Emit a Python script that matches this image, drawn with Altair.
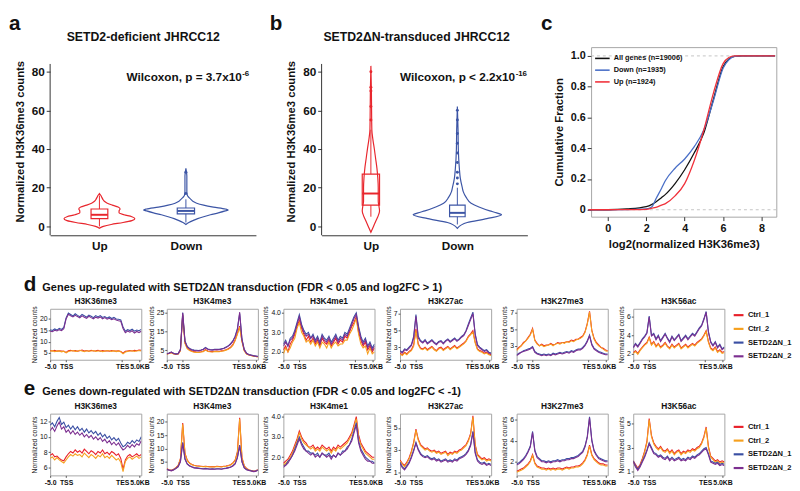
import altair as alt
import pandas as pd

FONT = "Liberation Sans"
RED = "#e8262d"
BLUE = "#3c55a5"

# ---------------- panel a / b : violins (value, half-width in category units) ----------------
a_up_y = [-1, 0, 1, 2, 3, 4, 5, 6, 7, 8, 9, 10, 11, 12, 13, 14, 15, 16, 17]
a_up_w = [0, 0.045, 0.136, 0.273, 0.375, 0.41, 0.375, 0.284, 0.227, 0.227, 0.239, 0.216, 0.148, 0.091, 0.057, 0.04, 0.028, 0.017, 0]
a_dn_y = [1, 2, 3, 4, 5, 6, 7, 8, 8.5, 9, 10, 11, 12, 13, 14, 15, 16, 18, 22, 26, 30]
a_dn_w = [0, 0.034, 0.08, 0.136, 0.205, 0.284, 0.375, 0.455, 0.489, 0.455, 0.318, 0.205, 0.125, 0.08, 0.057, 0.034, 0.017, 0.011, 0.011, 0.011, 0]
a_box_up = [4, 6, 9, 0, 16]      # q1, median, q3, low whisker, high whisker
a_box_dn = [6.5, 8, 9.5, 2, 14]
a_out_dn = [17, 28]

b_up_y = [-3, 0, 3, 5, 8, 10, 13, 16, 20, 25, 30, 35, 40, 45, 50, 60, 70, 83]
b_up_w = [0, 0.03, 0.06, 0.08, 0.1, 0.095, 0.085, 0.085, 0.085, 0.08, 0.07, 0.055, 0.04, 0.023, 0.011, 0.008, 0.006, 0]
b_dn_y = [-1, 2, 4, 6, 7, 8, 10, 12, 15, 18, 20, 25, 30, 40, 50, 62]
b_dn_w = [0, 0.114, 0.341, 0.511, 0.455, 0.375, 0.25, 0.159, 0.102, 0.068, 0.057, 0.034, 0.023, 0.011, 0.008, 0]
b_box_up = [11, 17, 27, 5, 50]
b_box_dn = [5, 7, 11, 1, 20]
b_out_up = [55, 62, 70, 72, 80]
b_out_dn = [22, 25, 28, 33, 38, 43, 48, 55, 60]
violin_axis_span = [-4.6, 84]

# ---------------- panel c : cumulative fractions ----------------
cdf_x = [-1, 0, 1, 2, 2.3, 2.5, 2.8, 3, 3.5, 4, 4.5, 5, 5.5, 6, 6.3, 6.6, 7, 8.7]
cdf_all = [0, 0, 0.005, 0.02, 0.035, 0.05, 0.08, 0.1, 0.17, 0.26, 0.37, 0.5, 0.72, 0.93, 0.98, 0.997, 1, 1]
cdf_down = [0, 0, 0.001, 0.005, 0.02, 0.07, 0.14, 0.19, 0.27, 0.33, 0.41, 0.52, 0.71, 0.92, 0.975, 0.997, 1, 1]
cdf_up = [0, 0, 0.001, 0.003, 0.01, 0.015, 0.03, 0.04, 0.09, 0.17, 0.32, 0.52, 0.76, 0.95, 0.99, 1, 1, 1]
cdf_groups = ["All genes (n=19006)", "Down (n=1935)", "Up (n=1924)"]
cdf_refs = [0, 1]

# ---------------- rows d / e : metagene profiles ----------------
SAMPLES = ["Ctrl_1", "Ctrl_2", "SETD2ΔN_1", "SETD2ΔN_2"]
SCOLORS = ["#e8202a", "#f6a01e", "#3a4fa3", "#7c2f90"]
bins = [i * 2.5 for i in range(41)]

d1_c1 = [6.1,5.9,6.2,5.8,6.0,5.9,5.7,5.2,6.0,6.2,5.9,6.1,5.8,6.0,6.3,5.9,6.1,5.8,6.2,5.9,6.0,6.2,5.8,6.1,5.9,6.0,5.8,6.1,5.9,5.8,6.0,5.6,4.9,5.7,5.9,6.1,5.9,6.2,6.0,6.3,6.2]
d1_c2 = [5.7,6.0,5.6,5.8,5.9,5.5,5.8,5.0,5.6,5.9,6.1,5.7,5.8,6.2,5.9,5.6,6.0,5.8,5.9,6.1,5.7,5.9,6.0,5.6,5.8,6.1,5.9,5.7,6.0,5.6,5.9,5.5,4.6,5.4,5.7,5.9,6.0,5.7,5.9,6.1,5.9]
d1_s1 = [15.2,14.9,15.6,15.1,15.9,15.4,16.3,20.5,22.6,22.0,21.3,22.3,21.6,21.0,22.0,21.4,20.8,21.7,21.2,20.6,21.5,20.9,21.5,20.7,21.1,20.4,20.9,20.2,20.7,20.0,19.9,19.6,16.5,14.6,15.3,14.9,15.5,14.6,15.1,14.8,15.4]
d1_s2 = [14.6,14.4,15.0,14.7,15.3,14.9,15.7,20.0,22.1,21.4,20.9,21.6,21.1,20.5,21.4,20.8,20.3,21.2,20.6,20.1,20.8,20.4,20.9,20.1,20.6,19.9,20.3,19.7,20.1,19.5,19.2,19.0,15.8,13.9,14.7,14.2,14.8,13.8,14.5,14.0,14.6]

d2_c1 = [3.0,3.4,3.9,3.2,2.9,3.1,5.0,24.0,9.0,6.2,5.2,4.6,4.3,4.1,4.0,4.2,4.5,5.3,4.6,4.4,4.3,4.5,4.6,4.4,4.7,4.9,5.3,5.8,6.6,8.0,10.5,14.0,17.8,10.0,5.0,3.2,2.6,2.3,2.0,1.8,1.6]
d2_c2 = [2.8,3.3,3.7,3.0,2.8,3.0,4.7,23.5,8.6,5.9,4.9,4.4,4.0,3.9,3.8,4.1,4.3,5.1,4.4,4.2,4.1,4.3,4.4,4.2,4.5,4.7,5.1,5.5,6.3,7.6,10.0,13.5,17.2,9.6,4.8,3.0,2.5,2.2,1.9,1.7,1.5]
d2_s1 = [3.2,3.6,4.1,3.4,3.1,3.3,5.5,25.0,10.0,7.0,6.0,5.4,5.1,5.0,4.9,5.2,5.6,6.5,5.7,5.4,5.3,5.5,5.6,5.5,5.8,6.1,6.7,7.4,8.5,10.0,12.5,16.5,24.5,11.0,5.5,3.5,2.8,2.5,2.2,2.0,1.8]
d2_s2 = [3.1,3.5,4.0,3.3,3.0,3.2,5.3,24.8,9.7,6.8,5.8,5.2,4.9,4.8,4.7,5.0,5.4,6.3,5.5,5.2,5.1,5.3,5.4,5.3,5.6,5.9,6.5,7.2,8.2,9.7,12.1,16.0,25.2,10.8,5.3,3.4,2.7,2.4,2.1,1.9,1.7]

d3_c1 = [2.1,2.3,2.0,2.4,2.6,2.9,3.3,3.6,3.2,2.9,2.6,2.8,2.5,2.7,2.4,2.6,2.3,2.7,2.5,2.4,2.6,2.3,2.5,2.7,2.4,2.6,2.5,2.8,2.7,3.0,3.3,3.5,3.8,3.0,2.6,2.3,2.5,2.1,2.3,2.0,2.2]
d3_c2 = [1.9,2.2,2.0,2.2,2.5,2.7,3.2,3.5,3.0,2.8,2.5,2.6,2.4,2.6,2.3,2.5,2.2,2.5,2.4,2.2,2.5,2.2,2.4,2.5,2.3,2.4,2.4,2.6,2.6,2.9,3.1,3.4,3.7,2.9,2.4,2.2,2.3,1.9,2.2,1.9,2.0]
d3_s1 = [2.4,2.6,2.3,2.7,2.8,3.1,3.5,3.9,3.4,3.1,2.9,3.0,2.7,2.9,2.6,2.8,2.5,2.9,2.7,2.6,2.8,2.5,2.7,2.9,2.6,2.8,2.7,3.0,2.9,3.2,3.5,3.8,4.0,3.3,2.8,2.5,2.7,2.3,2.5,2.2,2.4]
d3_s2 = [2.3,2.5,2.3,2.6,2.7,3.0,3.4,3.8,3.3,3.0,2.8,2.9,2.7,2.8,2.5,2.7,2.4,2.8,2.6,2.5,2.7,2.4,2.6,2.8,2.5,2.7,2.6,2.9,2.8,3.1,3.4,3.7,3.9,3.2,2.7,2.4,2.6,2.2,2.4,2.1,2.3]

d4_c1 = [2.3,2.1,2.4,2.2,2.5,2.7,3.3,5.2,3.4,2.9,2.8,3.0,2.7,2.9,3.1,2.8,2.6,2.9,3.0,2.7,2.9,3.1,2.8,3.0,3.2,2.9,3.1,3.3,3.5,3.8,4.3,4.6,5.0,3.6,2.8,2.6,2.5,2.3,2.4,2.2,2.1]
d4_c2 = [2.2,2.0,2.3,2.1,2.4,2.6,3.1,5.0,3.3,2.8,2.7,2.9,2.6,2.8,3.0,2.7,2.5,2.8,2.9,2.6,2.8,3.0,2.7,2.9,3.1,2.8,3.0,3.2,3.4,3.7,4.2,4.5,4.8,3.5,2.7,2.5,2.4,2.2,2.3,2.1,2.0]
d4_s1 = [2.6,2.4,2.8,2.7,3.0,3.3,4.3,6.9,4.3,3.8,3.6,3.9,3.5,3.7,3.9,3.6,3.4,3.7,3.8,3.5,3.8,4.0,3.7,3.9,4.1,3.8,4.0,4.3,4.5,5.0,5.8,6.5,7.2,4.6,3.3,3.0,2.8,2.6,2.7,2.4,2.3]
d4_s2 = [2.5,2.3,2.7,2.6,2.9,3.2,4.1,6.7,4.1,3.7,3.5,3.8,3.4,3.6,3.8,3.5,3.3,3.6,3.7,3.4,3.7,3.9,3.6,3.8,4.0,3.7,3.9,4.2,4.4,4.9,5.6,6.3,7.0,4.5,3.2,2.9,2.7,2.5,2.6,2.3,2.2]

d5_c1 = [2.5,2.8,3.0,3.4,3.6,4.0,4.4,5.1,3.7,3.3,3.0,3.2,3.0,3.1,3.1,3.3,3.1,3.2,3.4,3.3,3.4,3.4,3.5,3.5,3.7,3.6,3.8,3.8,4.0,4.2,4.7,5.7,7.2,4.9,3.9,3.4,3.1,2.8,2.7,2.5,2.4]
d5_c2 = [2.4,2.7,3.0,3.3,3.6,3.9,4.3,5.0,3.6,3.2,3.0,3.1,2.9,3.0,3.1,3.2,3.0,3.2,3.3,3.2,3.4,3.3,3.5,3.4,3.6,3.5,3.7,3.8,3.9,4.1,4.6,5.6,7.1,4.8,3.8,3.3,3.0,2.8,2.6,2.4,2.3]
d5_s1 = [1.9,2.1,2.2,2.4,2.5,2.6,2.7,2.9,2.3,2.1,2.0,1.9,2.0,1.9,2.0,1.9,2.1,2.0,2.1,2.2,2.1,2.2,2.3,2.2,2.4,2.3,2.5,2.6,2.6,2.8,3.1,3.6,4.3,3.2,2.7,2.5,2.3,2.2,2.1,2.0,2.0]
d5_s2 = [1.8,2.0,2.2,2.3,2.4,2.5,2.6,2.8,2.2,2.0,1.9,1.8,1.9,1.8,1.9,1.8,2.0,1.9,2.0,2.1,2.0,2.1,2.2,2.1,2.3,2.2,2.4,2.5,2.5,2.7,3.0,3.5,4.2,3.1,2.6,2.4,2.2,2.1,2.0,1.9,1.9]

d6_c1 = [2.1,2.3,2.0,2.4,2.7,3.0,3.2,3.8,3.0,3.3,2.8,3.1,2.7,2.9,3.2,2.8,2.6,3.0,2.7,2.9,3.1,2.6,2.8,3.0,2.7,2.9,3.1,2.9,3.2,3.4,3.6,4.0,4.5,3.3,2.6,2.4,2.7,2.2,2.4,2.1,2.2]
d6_c2 = [2.0,2.2,1.9,2.3,2.6,2.9,3.1,3.7,2.9,3.2,2.7,3.0,2.6,2.8,3.1,2.7,2.5,2.9,2.6,2.8,3.0,2.5,2.7,2.9,2.6,2.8,3.0,2.8,3.1,3.3,3.5,3.9,4.4,3.2,2.5,2.3,2.6,2.1,2.3,2.0,2.1]
d6_s1 = [2.7,3.1,2.8,3.2,3.6,3.9,4.3,6.1,4.0,4.2,3.6,4.0,3.4,3.8,4.2,3.7,3.3,3.9,3.5,3.8,4.1,3.4,3.7,4.0,3.6,3.9,4.2,4.0,4.4,4.8,5.1,5.8,6.6,4.4,3.3,2.9,3.3,2.7,3.0,2.5,2.7]
d6_s2 = [2.6,3.0,2.7,3.1,3.5,3.8,4.2,6.0,3.9,4.1,3.5,3.9,3.3,3.7,4.1,3.6,3.2,3.8,3.4,3.7,4.0,3.3,3.6,3.9,3.5,3.8,4.1,3.9,4.3,4.7,5.0,5.7,6.5,4.3,3.2,2.8,3.2,2.6,2.9,2.4,2.6]

e1_c1 = [7.6,7.8,7.4,7.5,7.2,7.0,6.9,7.4,7.8,8.1,7.9,8.3,8.0,8.2,7.9,8.4,8.1,7.8,8.2,8.0,7.7,8.1,7.9,8.3,7.8,8.0,7.7,8.1,7.9,7.6,7.8,7.2,5.8,7.0,7.5,7.7,7.4,7.6,7.8,7.5,7.7]
e1_c2 = [7.2,7.4,7.0,7.3,7.0,6.8,6.6,7.0,7.4,7.7,7.5,7.8,7.6,7.7,7.4,7.9,7.6,7.3,7.7,7.5,7.2,7.6,7.4,7.8,7.3,7.5,7.2,7.6,7.3,7.0,7.2,6.7,5.5,6.8,7.2,7.4,7.1,7.3,7.5,7.2,7.4]
e1_s1 = [11.5,11.8,11.3,12.0,12.5,11.6,11.9,11.2,11.5,11.0,11.4,10.9,11.3,10.8,11.1,10.6,11.0,10.5,10.8,10.4,10.7,10.2,10.5,10.0,10.3,9.8,10.1,9.6,9.9,9.5,9.8,9.2,8.7,8.9,9.3,9.1,9.5,9.2,9.6,9.4,10.0]
e1_s2 = [10.8,11.2,10.7,11.4,11.9,11.0,11.3,10.6,10.9,10.4,10.8,10.3,10.6,10.2,10.5,10.0,10.3,9.9,10.2,9.7,10.0,9.6,9.9,9.4,9.7,9.2,9.5,9.0,9.3,8.9,9.2,8.7,8.3,8.5,8.9,8.6,9.0,8.7,9.1,8.9,9.5]

e2_c1 = [2.5,2.1,1.9,2.3,2.9,3.7,6.2,19.5,8.3,5.7,4.6,4.1,3.8,3.6,3.5,3.4,3.3,3.4,3.3,3.2,3.3,3.2,3.4,3.3,3.2,3.4,3.5,3.7,4.0,4.6,5.7,8.8,21.5,6.7,3.6,2.6,2.1,1.8,1.6,1.7,2.1]
e2_c2 = [2.4,2.0,1.8,2.2,2.8,3.6,6.0,19.0,8.0,5.5,4.5,4.0,3.7,3.5,3.4,3.3,3.2,3.3,3.2,3.1,3.2,3.1,3.3,3.2,3.1,3.3,3.4,3.6,3.9,4.5,5.5,8.5,21.0,6.5,3.5,2.5,2.0,1.7,1.5,1.6,2.0]
e2_s1 = [2.3,2.0,1.8,2.1,2.6,3.3,5.2,12.3,6.2,4.3,3.6,3.2,2.9,2.8,2.7,2.6,2.5,2.6,2.5,2.4,2.5,2.4,2.5,2.5,2.4,2.6,2.7,2.9,3.1,3.6,4.4,6.7,11.3,5.1,2.9,2.2,1.9,1.7,1.5,1.6,2.0]
e2_s2 = [2.2,1.9,1.7,2.0,2.5,3.2,5.0,12.0,6.0,4.2,3.5,3.1,2.8,2.7,2.6,2.5,2.4,2.5,2.4,2.3,2.4,2.3,2.4,2.4,2.3,2.5,2.6,2.8,3.0,3.5,4.3,6.5,11.0,5.0,2.8,2.1,1.8,1.6,1.4,1.5,1.9]

e3_c1 = [1.7,1.8,1.9,2.1,2.3,2.6,2.9,3.3,3.0,2.8,2.7,2.5,2.5,2.6,2.4,2.5,2.4,2.6,2.5,2.4,2.5,2.3,2.5,2.4,2.6,2.5,2.6,2.7,2.8,3.0,3.2,3.6,4.0,3.1,2.7,2.5,2.3,2.2,2.1,2.0,2.0]
e3_c2 = [1.6,1.7,1.8,2.0,2.2,2.5,2.8,3.2,2.9,2.7,2.6,2.5,2.4,2.5,2.3,2.4,2.3,2.5,2.4,2.3,2.4,2.2,2.4,2.3,2.5,2.4,2.5,2.6,2.7,2.9,3.1,3.5,3.9,3.0,2.6,2.4,2.2,2.1,2.0,1.9,1.9]
e3_s1 = [1.6,1.6,1.8,1.9,2.1,2.4,2.7,3.0,2.7,2.5,2.3,2.3,2.2,2.2,2.1,2.2,2.0,2.2,2.1,2.1,2.2,2.0,2.1,2.0,2.2,2.1,2.3,2.3,2.5,2.6,2.9,3.3,3.7,2.8,2.4,2.2,2.0,1.9,1.8,1.8,1.7]
e3_s2 = [1.5,1.6,1.7,1.9,2.1,2.3,2.6,2.9,2.6,2.4,2.3,2.2,2.1,2.2,2.0,2.1,2.0,2.2,2.1,2.0,2.1,1.9,2.1,2.0,2.2,2.1,2.2,2.3,2.4,2.6,2.8,3.2,3.6,2.7,2.3,2.1,1.9,1.8,1.8,1.7,1.7]

e4_c1 = [2.1,1.8,1.6,1.9,2.3,2.9,3.7,4.9,4.0,3.5,3.3,3.1,3.2,3.0,2.9,3.0,2.8,2.9,2.7,2.8,2.9,2.6,2.8,2.7,2.9,2.8,3.0,3.1,3.3,3.5,3.9,4.5,6.1,3.5,2.6,2.4,2.2,2.3,2.1,2.2,2.1]
e4_c2 = [2.0,1.7,1.5,1.8,2.2,2.8,3.6,4.8,3.9,3.4,3.2,3.0,3.1,2.9,2.8,2.9,2.7,2.8,2.6,2.7,2.8,2.5,2.7,2.6,2.8,2.7,2.9,3.0,3.2,3.4,3.8,4.4,6.0,3.4,2.5,2.3,2.1,2.2,2.0,2.1,2.0]
e4_s1 = [1.9,1.5,1.3,1.6,1.9,2.4,3.0,3.7,3.1,2.7,2.5,2.4,2.5,2.3,2.2,2.3,2.1,2.2,2.0,2.1,2.2,2.0,2.1,2.0,2.2,2.1,2.3,2.4,2.5,2.7,3.0,3.5,4.7,2.8,2.1,1.9,1.8,1.9,1.7,1.8,1.7]
e4_s2 = [1.8,1.4,1.2,1.5,1.8,2.3,2.9,3.6,3.0,2.6,2.4,2.3,2.4,2.2,2.1,2.2,2.0,2.1,1.9,2.0,2.1,1.9,2.0,1.9,2.1,2.0,2.2,2.3,2.4,2.6,2.9,3.4,4.6,2.7,2.0,1.8,1.7,1.8,1.6,1.7,1.6]

e5_c1 = [1.1,1.2,1.3,1.4,1.6,1.8,2.1,2.7,1.9,1.6,1.5,1.4,1.4,1.3,1.4,1.3,1.4,1.3,1.4,1.4,1.3,1.4,1.5,1.4,1.5,1.5,1.6,1.6,1.7,1.9,2.2,2.7,3.6,2.7,2.3,2.1,1.9,1.8,1.8,1.7,1.7]
e5_c2 = [1.0,1.1,1.2,1.3,1.5,1.7,2.0,2.6,1.8,1.5,1.4,1.3,1.3,1.2,1.3,1.2,1.3,1.2,1.3,1.3,1.2,1.3,1.4,1.3,1.4,1.4,1.5,1.5,1.6,1.8,2.1,2.6,3.5,2.6,2.2,2.0,1.8,1.7,1.7,1.6,1.6]
e5_s1 = [1.8,1.9,2.1,2.3,2.6,3.0,3.5,4.9,3.1,2.5,2.3,2.1,2.1,2.0,2.1,2.0,2.1,2.1,2.2,2.1,2.2,2.2,2.3,2.3,2.4,2.4,2.5,2.6,2.8,3.0,3.5,4.4,6.3,4.1,3.1,2.7,2.4,2.3,2.2,2.1,2.1]
e5_s2 = [1.7,1.8,2.0,2.2,2.5,2.9,3.4,4.8,3.0,2.4,2.2,2.0,2.0,1.9,2.0,1.9,2.0,2.0,2.1,2.0,2.1,2.1,2.2,2.2,2.3,2.3,2.4,2.5,2.7,2.9,3.4,4.3,6.2,4.0,3.0,2.6,2.3,2.2,2.1,2.0,2.0]

e6_c1 = [1.9,1.6,1.3,1.6,2.1,2.7,3.5,5.4,4.0,3.4,3.1,2.9,3.1,2.8,2.7,2.9,2.6,2.8,2.5,2.7,2.8,2.5,2.7,2.6,2.8,2.7,2.9,2.8,3.0,3.1,3.4,3.9,4.7,3.1,2.3,2.1,1.9,2.0,1.8,1.9,1.8]
e6_c2 = [1.8,1.5,1.2,1.5,2.0,2.6,3.4,5.3,3.9,3.3,3.0,2.8,3.0,2.7,2.6,2.8,2.5,2.7,2.4,2.6,2.7,2.4,2.6,2.5,2.7,2.6,2.8,2.7,2.9,3.0,3.3,3.8,4.6,3.0,2.2,2.0,1.8,1.9,1.7,1.8,1.7]
e6_s1 = [1.9,1.5,1.2,1.5,1.9,2.3,2.8,3.4,3.0,2.6,2.5,2.3,2.4,2.2,2.1,2.3,2.0,2.2,2.0,2.1,2.2,2.0,2.1,2.0,2.2,2.1,2.3,2.2,2.4,2.5,2.7,2.9,3.0,2.5,1.9,1.8,1.7,1.8,1.6,1.7,1.6]
e6_s2 = [1.8,1.4,1.1,1.4,1.8,2.2,2.7,3.3,2.9,2.5,2.4,2.2,2.3,2.1,2.0,2.2,1.9,2.1,1.9,2.0,2.1,1.9,2.0,1.9,2.1,2.0,2.2,2.1,2.3,2.4,2.6,2.8,2.9,2.4,1.8,1.7,1.6,1.7,1.5,1.6,1.5]

marks_d = ["H3K36me3", "H3K4me3", "H3K4me1", "H3K27ac", "H3K27me3", "H3K56ac"]
d_series = [[d1_c1, d1_c2, d1_s1, d1_s2], [d2_c1, d2_c2, d2_s1, d2_s2], [d3_c1, d3_c2, d3_s1, d3_s2],
            [d4_c1, d4_c2, d4_s1, d4_s2], [d5_c1, d5_c2, d5_s1, d5_s2], [d6_c1, d6_c2, d6_s1, d6_s2]]
e_series = [[e1_c1, e1_c2, e1_s1, e1_s2], [e2_c1, e2_c2, e2_s1, e2_s2], [e3_c1, e3_c2, e3_s1, e3_s2],
            [e4_c1, e4_c2, e4_s1, e4_s2], [e5_c1, e5_c2, e5_s1, e5_s2], [e6_c1, e6_c2, e6_s1, e6_s2]]
d_domains = [[2, 24.5], [0, 27], [1.6, 4.2], [1.5, 7.6], [1.3, 7.5], [1.3, 6.9]]
d_ticks = [[5, 10, 15, 20], [5, 15, 25], [2, 3, 4], [3, 5, 7], [3, 5, 7], [2, 4, 6]]
d_fmts = ["d", "d", ".1f", "d", "d", "d"]
e_domains = [[5, 13], [0, 23], [1.1, 4.15], [0.7, 6.3], [0.7, 6.6], [0.7, 5.8]]
e_ticks = [[6, 8, 10, 12], [5, 10, 15, 20], [2, 3, 4], [1, 3, 5], [2, 4, 6], [1, 3, 5]]
e_fmts = ["d", "d", ".1f", "d", "d", "d"]
profile_ticks = [0, 17.5, 79, 98]
title_d = "Genes up-regulated with SETD2ΔN transduction (FDR < 0.05 and log2FC > 1)"
title_e = "Genes down-regulated with SETD2ΔN transduction (FDR < 0.05 and log2FC < -1)"

NOSTROKE = alt.ViewBackground(stroke="transparent")
PW = 93


def txt(s, x, y, size, align="left", baseline="alphabetic"):
    return alt.Chart(pd.DataFrame({"t": [s]})).mark_text(
        fontSize=size, fontWeight="bold", align=align, baseline=baseline, color="#111"
    ).encode(text="t:N", x=alt.value(x), y=alt.value(y))


# ---------------- violin panels ----------------
XS = alt.Scale(domain=[0.43, 2.81], nice=False, zero=False)
YS = alt.Scale(domain=[-4.6, 92.7], nice=False, zero=False)
XAX = alt.Axis(values=[1, 2], labelExpr="datum.value == 1 ? 'Up' : 'Down'", title=None, ticks=False,
               labelFontSize=12, labelFontWeight="bold", labelPadding=5, domainColor="#333",
               grid=False, labelColor="#111")
YAX = alt.Axis(values=[0, 20, 40, 60, 80], title="Normalized H3K36me3 counts", titleFontSize=11.5,
               titleFontWeight="bold", labelFontSize=12, labelFontWeight="bold", tickSize=4,
               domain=False, tickColor="#333", grid=False, titlePadding=6, labelColor="#111",
               titleColor="#111")


def violin(y, w, center, color):
    df = pd.DataFrame({"y": y, "w": w})
    df["lo"] = center - df["w"]
    df["hi"] = center + df["w"]
    return alt.Chart(df).mark_area(orient="horizontal", interpolate="monotone", fillOpacity=0,
                                   stroke=color, strokeWidth=1.2).encode(
        y=alt.Y("y:Q", scale=YS, axis=YAX), x=alt.X("lo:Q", scale=XS, axis=XAX), x2="hi:Q")


def yaxis_line():
    df = pd.DataFrame({"x": [XS.domain[0]], "y": [violin_axis_span[0]], "y2": [violin_axis_span[1]]})
    return alt.Chart(df).mark_rule(color="#333", strokeWidth=1).encode(x="x:Q", y="y:Q", y2="y2:Q")


def boxplot(stats, center, color, hw, outliers):
    q1, med, q3, lo, hi = stats
    df = pd.DataFrame({"c": [center], "l": [center - hw], "r": [center + hw], "q1": [q1],
                       "m": [med], "q3": [q3], "lo": [lo], "hi": [hi]})
    base = alt.Chart(df)
    layers = [
        base.mark_rule(color=color, strokeWidth=1).encode(x=alt.X("c:Q", scale=XS, axis=XAX),
                                                           y=alt.Y("lo:Q", scale=YS, axis=YAX), y2="q1:Q"),
        base.mark_rule(color=color, strokeWidth=1).encode(x="c:Q", y="q3:Q", y2="hi:Q"),
        base.mark_rect(fill="white", fillOpacity=0, stroke=color, strokeWidth=1.2).encode(
            x="l:Q", x2="r:Q", y="q1:Q", y2="q3:Q"),
        base.mark_rule(color=color, strokeWidth=2).encode(x="l:Q", x2="r:Q", y="m:Q"),
    ]
    if outliers:
        od = pd.DataFrame({"v": outliers})
        od["c"] = center
        layers.append(alt.Chart(od).mark_circle(size=9, color=color, opacity=1).encode(x="c:Q", y="v:Q"))
    return layers


panel_a = alt.layer(
    violin(a_up_y, a_up_w, 1, RED), violin(a_dn_y, a_dn_w, 2, BLUE), yaxis_line(),
    *boxplot(a_box_up, 1, RED, 0.097, []), *boxplot(a_box_dn, 2, BLUE, 0.1, a_out_dn),
    txt("Wilcoxon, p = 3.7x10", 78, 35, 12), txt("-6", 196, 29, 8),
    txt("SETD2-deficient JHRCC12", 95, -6, 12.5, align="center"),
    txt("a", -42, -17, 21),
).properties(width=210, height=192, view=NOSTROKE)

panel_b = alt.layer(
    violin(b_up_y, b_up_w, 1, RED), violin(b_dn_y, b_dn_w, 2, BLUE), yaxis_line(),
    *boxplot(b_box_up, 1, RED, 0.1, b_out_up), *boxplot(b_box_dn, 2, BLUE, 0.09, b_out_dn),
    txt("Wilcoxon, p < 2.2x10", 80, 35, 12), txt("-16", 198, 29, 8),
    txt("SETD2ΔN-transduced JHRCC12", 97, -6, 12.5, align="center"),
    txt("b", -53, -17, 21),
).properties(width=210, height=192, view=NOSTROKE)

# ---------------- CDF panel ----------------
cdf_rows = []
for g, ys in zip(cdf_groups, [cdf_all, cdf_down, cdf_up]):
    for xv, yv in zip(cdf_x, ys):
        cdf_rows.append({"x": xv, "y": yv, "g": g})
cdf_df = pd.DataFrame(cdf_rows)
CX = alt.Scale(domain=[-0.87, 8.77], nice=False, zero=False)
CY = alt.Scale(domain=[-0.045, 1.057], nice=False, zero=False)
cx_ax = alt.Axis(values=[0, 2, 4, 6, 8], title="log2(normalized H3K36me3)", titleFontSize=11.5,
                 titleFontWeight="bold", labelFontSize=11, labelFontWeight="bold", grid=False,
                 domain=False, tickSize=4, tickColor="#333", labelColor="#111", titleColor="#111",
                 titlePadding=5)
cy_ax = alt.Axis(values=[0, 0.2, 0.4, 0.6, 0.8, 1.0],
                 labelExpr="datum.value == 0 ? '0' : format(datum.value, '.1f')",
                 title="Cumulative Fraction", titleFontSize=11.5, titleFontWeight="bold",
                 labelFontSize=11, labelFontWeight="bold", grid=False, domain=False, tickSize=4,
                 tickColor="#333", labelColor="#111", titleColor="#111", titlePadding=6)
cdf_rules = alt.Chart(pd.DataFrame({"y": cdf_refs})).mark_rule(
    color="#c4c4c4", strokeDash=[3, 3], strokeWidth=1).encode(y=alt.Y("y:Q", scale=CY, axis=cy_ax))
cdf_lines = alt.Chart(cdf_df).mark_line(strokeWidth=1.3, interpolate="monotone").encode(
    x=alt.X("x:Q", scale=CX, axis=cx_ax),
    y=alt.Y("y:Q", scale=CY, axis=cy_ax),
    color=alt.Color("g:N", sort=cdf_groups,
                    scale=alt.Scale(domain=cdf_groups, range=["#111111", "#4a6fc7", "#f0303a"]),
                    legend=alt.Legend(title=None, orient="top-left", offset=3, padding=0,
                                      symbolType="stroke", symbolStrokeWidth=1.6, symbolSize=220,
                                      labelFontSize=7.5, labelFontWeight="bold", rowPadding=-4,
                                      labelOffset=3, labelColor="#111")),
)
panel_c = alt.layer(cdf_rules, cdf_lines, txt("c", -51, -17, 21)).properties(width=189, height=173)

row1 = alt.hconcat(panel_a, panel_b, panel_c, spacing=12).resolve_scale(color="independent")


# ---------------- profile rows ----------------
def profile(name, series, dom, ticks, fmt, h, legend_y, header=None):
    rows = []
    for s, vals in zip(SAMPLES, series):
        for xv, v in zip(bins, vals):
            rows.append({"x": xv, "v": v, "sample": s})
    df = pd.DataFrame(rows)
    line = alt.Chart(df).mark_line(strokeWidth=1.1, clip=True).encode(
        x=alt.X("x:Q", scale=alt.Scale(domain=[0, 100], nice=False, zero=False),
                axis=alt.Axis(values=profile_ticks,
                              labelExpr="datum.value == 0 ? '-5.0' : datum.value < 50 ? 'TSS' : datum.value < 90 ? 'TES' : '5.0KB'",
                              title=None, grid=False, domain=False, tickSize=2, labelFontSize=7,
                              labelFontWeight="bold", labelPadding=1, labelOverlap=False,
                              labelFlush=False, labelBound=False, tickColor="#555", labelColor="#111")),
        y=alt.Y("v:Q", scale=alt.Scale(domain=dom, nice=False, zero=False),
                axis=alt.Axis(values=ticks, format=fmt, title="Normalized counts", titleFontSize=7,
                              titleFontWeight="normal", titlePadding=2, labelFontSize=7,
                              tickSize=2, grid=False, domain=False, labelPadding=1,
                              tickColor="#555", labelColor="#111", titleColor="#222")),
        color=alt.Color("sample:N", sort=SAMPLES, scale=alt.Scale(domain=SAMPLES, range=SCOLORS),
                        legend=alt.Legend(title=None, orient="none", legendX=696, legendY=legend_y,
                                          symbolType="stroke", symbolStrokeWidth=2.2, symbolSize=100,
                                          labelFontSize=7.7, labelFontWeight="bold", rowPadding=3,
                                          padding=0, labelOffset=3, labelColor="#111")),
    )
    layers = [line, txt(name, PW / 2, -5, 8.5, align="center")]
    if header:
        letter, text, base_y = header
        layers.append(txt(letter, -27, base_y, 21))
        layers.append(txt(text, -8, base_y, 11.2))
    return alt.layer(*layers).properties(width=PW, height=h)


row_d = alt.hconcat(*[profile(m, s, dm, t, f, 52, 0, ("d", title_d, -18) if i == 0 else None)
                      for i, (m, s, dm, t, f) in enumerate(zip(marks_d, d_series, d_domains, d_ticks, d_fmts))],
                    spacing=26, bounds="flush")
row_e = alt.hconcat(*[profile(m, s, dm, t, f, 63, 7, ("e", title_e, -19) if i == 0 else None)
                      for i, (m, s, dm, t, f) in enumerate(zip(marks_d, e_series, e_domains, e_ticks, e_fmts))],
                    spacing=26, bounds="flush")

rows_de = alt.vconcat(row_d, row_e, spacing=7).resolve_scale(color="independent")

chart = alt.vconcat(row1, rows_de, spacing=22).resolve_scale(color="independent").properties(
    padding={"left": 0, "top": 0, "right": 0, "bottom": 0}
).configure(font=FONT).configure_view(stroke="#a5a5a5", strokeWidth=1).configure_text(font=FONT)

chart.save("out.html", embed_options={"renderer": "svg", "actions": False})
